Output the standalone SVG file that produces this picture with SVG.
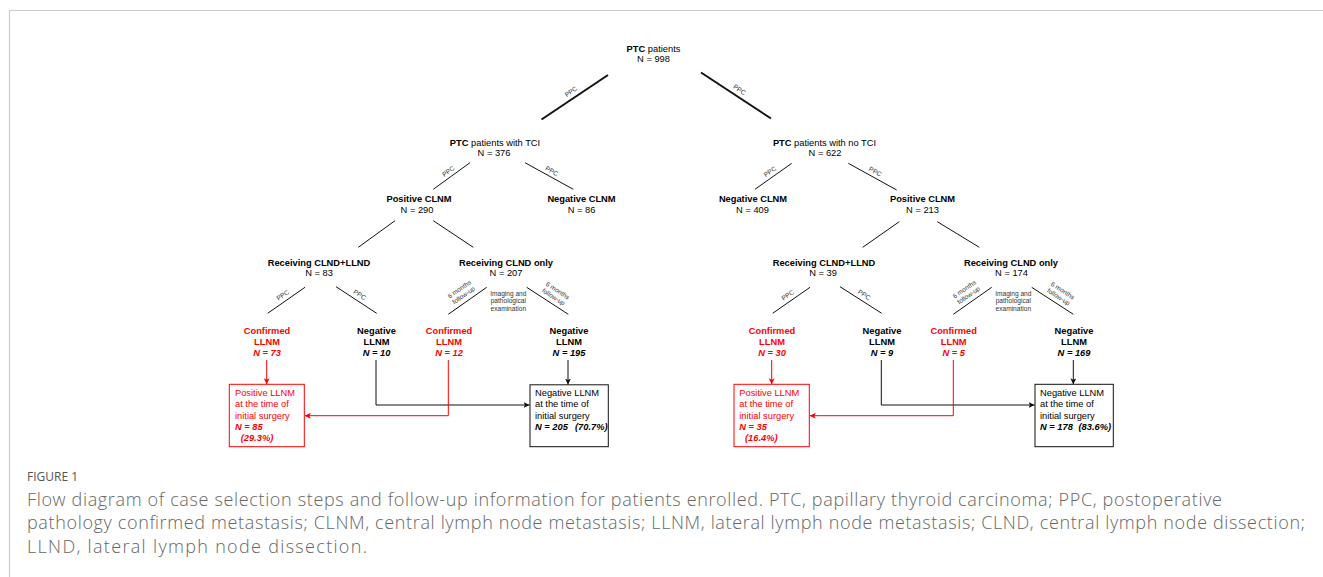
<svg xmlns="http://www.w3.org/2000/svg" width="1323" height="577" viewBox="0 0 1323 577">
<style>
.t{font-family:"Liberation Sans",Arial,sans-serif;font-size:9.3px;text-anchor:middle;fill:#000}
.l{text-anchor:start}
.b{font-weight:bold}
.bi{font-weight:bold;font-style:italic}
.r{fill:#ff0000}
.s{font-family:"Liberation Sans",Arial,sans-serif;font-size:6.5px;text-anchor:middle;fill:#333}
.ln{stroke:#111;stroke-width:1;fill:none}
.thick{stroke:#111;stroke-width:2;fill:none}
.lr{stroke:#ff0000;stroke-width:1;fill:none}
.box{fill:#fff;stroke:#111;stroke-width:1}
.boxr{fill:#fff;stroke:#ff0000;stroke-width:1}
.cap{font-family:"Open Sans","Liberation Sans",sans-serif;font-size:18px;font-weight:300;fill:#666}
.fig{font-family:"Open Sans","Liberation Sans",sans-serif;font-size:12px;font-weight:500;fill:#555}
</style>
<defs>
<marker id="ak" markerUnits="userSpaceOnUse" markerWidth="7" markerHeight="7" refX="6" refY="3" orient="auto"><path d="M0,0 L6,3 L0,6 L1.5,3 z" fill="#111"/></marker>
<marker id="ar" markerUnits="userSpaceOnUse" markerWidth="7" markerHeight="7" refX="6" refY="3" orient="auto"><path d="M0,0 L6,3 L0,6 L1.5,3 z" fill="#ff0000"/></marker>
</defs>
<rect width="1323" height="577" fill="#fff"/>
<path d="M9.5,577 V10.5 H1323" fill="none" stroke="#ccc" stroke-width="1.2"/>

<g id="connectors">
<line class="thick" x1="608" y1="75" x2="541.5" y2="119.5"/>
<line class="thick" x1="701" y1="72.5" x2="771" y2="118.5"/>
<line class="ln" x1="470" y1="162.7" x2="433.3" y2="189.3"/>
<line class="ln" x1="525" y1="162.7" x2="573.3" y2="189.3"/>
<line class="ln" x1="791.7" y1="163.3" x2="755" y2="189.3"/>
<line class="ln" x1="848.3" y1="163.3" x2="896.7" y2="190"/>
<line class="ln" x1="395" y1="220.7" x2="358.3" y2="247.3"/>
<line class="ln" x1="433.3" y1="220.7" x2="473.3" y2="247.3"/>
<line class="ln" x1="899.3" y1="221.7" x2="862.7" y2="247.3"/>
<line class="ln" x1="937.3" y1="221.7" x2="979.3" y2="247.3"/>
<line class="ln" x1="305" y1="287.3" x2="267.7" y2="313.3"/>
<line class="ln" x1="336" y1="286.7" x2="376.7" y2="313.3"/>
<line class="ln" x1="486.7" y1="287.3" x2="448.3" y2="314.3"/>
<line class="ln" x1="526.7" y1="287.3" x2="568.3" y2="314.3"/>
<line class="ln" x1="810" y1="287.3" x2="772.7" y2="313.3"/>
<line class="ln" x1="840" y1="286.7" x2="881.7" y2="313.3"/>
<line class="ln" x1="991.7" y1="287.3" x2="953.3" y2="314.3"/>
<line class="ln" x1="1031.7" y1="287.3" x2="1073.3" y2="314.3"/>

<line class="lr" x1="266.7" y1="360" x2="266.7" y2="384.3" marker-end="url(#ar)"/>
<polyline class="ln" points="376,360 376,405 529.5,405" marker-end="url(#ak)"/>
<polyline class="lr" points="448.3,360 448.3,415.7 304.8,415.7" marker-end="url(#ar)"/>
<line class="ln" x1="568" y1="360" x2="568" y2="384.5" marker-end="url(#ak)"/>
<line class="lr" x1="771.7" y1="360" x2="771.7" y2="384.3" marker-end="url(#ar)"/>
<polyline class="ln" points="881.3,360 881.3,405 1034.5,405" marker-end="url(#ak)"/>
<polyline class="lr" points="953.3,360 953.3,415.7 809.8,415.7" marker-end="url(#ar)"/>
<line class="ln" x1="1073.3" y1="360" x2="1073.3" y2="384.3" marker-end="url(#ak)"/>

<g id="edge-labels">
<text class="s" transform="translate(574.7,97.2) rotate(-34)" y="-4.5">PPC</text>
<text class="s" transform="translate(735.8,95.3) rotate(33.5)" y="-4.5">PPC</text>
<text class="s" transform="translate(451.7,176) rotate(-36)" y="-3.5">PPC</text>
<text class="s" transform="translate(549,176) rotate(29)" y="-3.5">PPC</text>
<text class="s" transform="translate(773.3,176.3) rotate(-35)" y="-3.5">PPC</text>
<text class="s" transform="translate(872.5,176.6) rotate(29)" y="-3.5">PPC</text>
<text class="s" transform="translate(286.3,300.3) rotate(-35)" y="-4">PPC</text>
<text class="s" transform="translate(356.3,300) rotate(33)" y="-4">PPC</text>
<text class="s" transform="translate(791.3,300.3) rotate(-35)" y="-4">PPC</text>
<text class="s" transform="translate(860.8,300) rotate(33)" y="-4">PPC</text>
<text class="s" transform="translate(467.5,300.8) rotate(-35)"><tspan x="0" y="-12">6 months</tspan><tspan x="0" y="-4.5">follow-up</tspan></text>
<text class="s" transform="translate(550,302.5) rotate(33)"><tspan x="0" y="-12">6 months</tspan><tspan x="0" y="-4.5">follow-up</tspan></text>
<text class="s" transform="translate(972.5,300.8) rotate(-35)"><tspan x="0" y="-12">6 months</tspan><tspan x="0" y="-4.5">follow-up</tspan></text>
<text class="s" transform="translate(1055,302.5) rotate(33)"><tspan x="0" y="-12">6 months</tspan><tspan x="0" y="-4.5">follow-up</tspan></text>
<text class="s" style="font-size:6.6px"><tspan x="508.3" y="295.7">Imaging and</tspan><tspan x="508.3" y="303.3">pathological</tspan><tspan x="508.3" y="311">examination</tspan></text>
<text class="s" style="font-size:6.6px"><tspan x="1013.3" y="295.7">Imaging and</tspan><tspan x="1013.3" y="303.3">pathological</tspan><tspan x="1013.3" y="311">examination</tspan></text>
</g>
</g>

<g id="n-root"><text class="t" x="653.5" y="51.7"><tspan class="b">PTC</tspan> patients</text><text class="t" x="653.5" y="62.3">N = 998</text></g>
<g id="n-tci"><text class="t" x="495" y="146"><tspan class="b">PTC</tspan> patients with TCI</text><text class="t" x="494" y="156">N = 376</text></g>
<g id="n-notci"><text class="t" x="824.5" y="146"><tspan class="b">PTC</tspan> patients with no TCI</text><text class="t" x="825" y="156">N = 622</text></g>
<g id="n-pos-l"><text class="t b" x="419" y="202">Positive CLNM</text><text class="t" x="417" y="212.5">N = 290</text></g>
<g id="n-neg-l"><text class="t b" x="581.5" y="202">Negative CLNM</text><text class="t" x="581.5" y="212.5">N = 86</text></g>
<g id="n-neg-r"><text class="t b" x="753" y="202">Negative CLNM</text><text class="t" x="752.5" y="212.5">N = 409</text></g>
<g id="n-pos-r"><text class="t b" x="922.5" y="202">Positive CLNM</text><text class="t" x="922.5" y="212.5">N = 213</text></g>
<g id="n-cl-l"><text class="t b" x="319" y="265.5">Receiving CLND+LLND</text><text class="t" x="319" y="276">N = 83</text></g>
<g id="n-co-l"><text class="t b" x="506" y="265.5">Receiving CLND only</text><text class="t" x="506" y="276">N = 207</text></g>
<g id="n-cl-r"><text class="t b" x="824" y="265.5">Receiving CLND+LLND</text><text class="t" x="823" y="276">N = 39</text></g>
<g id="n-co-r"><text class="t b" x="1011" y="265.5">Receiving CLND only</text><text class="t" x="1011.5" y="276">N = 174</text></g>

<g id="leaf-1"><text class="t b r" x="267" y="334">Confirmed</text><text class="t b r" x="267" y="345">LLNM</text><text class="t bi r" x="267" y="355.5">N = 73</text></g>
<g id="leaf-2"><text class="t b" x="376.5" y="334">Negative</text><text class="t b" x="376.5" y="345">LLNM</text><text class="t bi" x="376.5" y="355.5">N = 10</text></g>
<g id="leaf-3"><text class="t b r" x="449" y="334">Confirmed</text><text class="t b r" x="449" y="345">LLNM</text><text class="t bi r" x="449" y="355.5">N = 12</text></g>
<g id="leaf-4"><text class="t b" x="569" y="334">Negative</text><text class="t b" x="569" y="345">LLNM</text><text class="t bi" x="569" y="355.5">N = 195</text></g>
<g id="leaf-5"><text class="t b r" x="772" y="334">Confirmed</text><text class="t b r" x="772" y="345">LLNM</text><text class="t bi r" x="772" y="355.5">N = 30</text></g>
<g id="leaf-6"><text class="t b" x="882" y="334">Negative</text><text class="t b" x="882" y="345">LLNM</text><text class="t bi" x="882" y="355.5">N = 9</text></g>
<g id="leaf-7"><text class="t b r" x="953.7" y="334">Confirmed</text><text class="t b r" x="953.7" y="345">LLNM</text><text class="t bi r" x="953.7" y="355.5">N = 5</text></g>
<g id="leaf-8"><text class="t b" x="1074" y="334">Negative</text><text class="t b" x="1074" y="345">LLNM</text><text class="t bi" x="1074" y="355.5">N = 169</text></g>

<g id="box-pos-l"><rect class="boxr" x="229.3" y="384.3" width="75" height="62.4"/>
<text class="t l r"><tspan x="235" y="396">Positive LLNM</tspan><tspan x="235" y="407.3">at the time of</tspan><tspan x="235" y="418.6">initial surgery</tspan><tspan class="bi" x="235" y="429.9">N = 85</tspan><tspan class="bi" x="240.7" y="441.2">(29.3%)</tspan></text></g>
<g id="box-neg-l"><rect class="box" x="530" y="384.8" width="78.3" height="61.9"/>
<text class="t l"><tspan x="535" y="396">Negative LLNM</tspan><tspan x="535" y="407.3">at the time of</tspan><tspan x="535" y="418.6">initial surgery</tspan><tspan class="bi" x="535" y="429.9">N = 205</tspan><tspan class="bi" x="575" y="429.9">(70.7%)</tspan></text></g>
<g id="box-pos-r"><rect class="boxr" x="734" y="384.3" width="75.3" height="62.4"/>
<text class="t l r"><tspan x="739.3" y="396">Positive LLNM</tspan><tspan x="739.3" y="407.3">at the time of</tspan><tspan x="739.3" y="418.6">initial surgery</tspan><tspan class="bi" x="739.3" y="429.9">N = 35</tspan><tspan class="bi" x="745" y="441.2">(16.4%)</tspan></text></g>
<g id="box-neg-r"><rect class="box" x="1035" y="384.3" width="78.3" height="62.4"/>
<text class="t l"><tspan x="1040" y="396">Negative LLNM</tspan><tspan x="1040" y="407.3">at the time of</tspan><tspan x="1040" y="418.6">initial surgery</tspan><tspan class="bi" x="1040" y="429.9">N = 178</tspan><tspan class="bi" x="1078.5" y="429.9">(83.6%)</tspan></text></g>

<g id="caption">
<text class="fig" x="27" y="481">FIGURE 1</text>
<text class="cap" x="27" y="505.5" textLength="1195" lengthAdjust="spacing">Flow diagram of case selection steps and follow-up information for patients enrolled. PTC, papillary thyroid carcinoma; PPC, postoperative</text>
<text class="cap" x="27" y="529" textLength="1278" lengthAdjust="spacing">pathology confirmed metastasis; CLNM, central lymph node metastasis; LLNM, lateral lymph node metastasis; CLND, central lymph node dissection;</text>
<text class="cap" x="27" y="552.5" textLength="340" lengthAdjust="spacing">LLND, lateral lymph node dissection.</text>
</g>
</svg>
